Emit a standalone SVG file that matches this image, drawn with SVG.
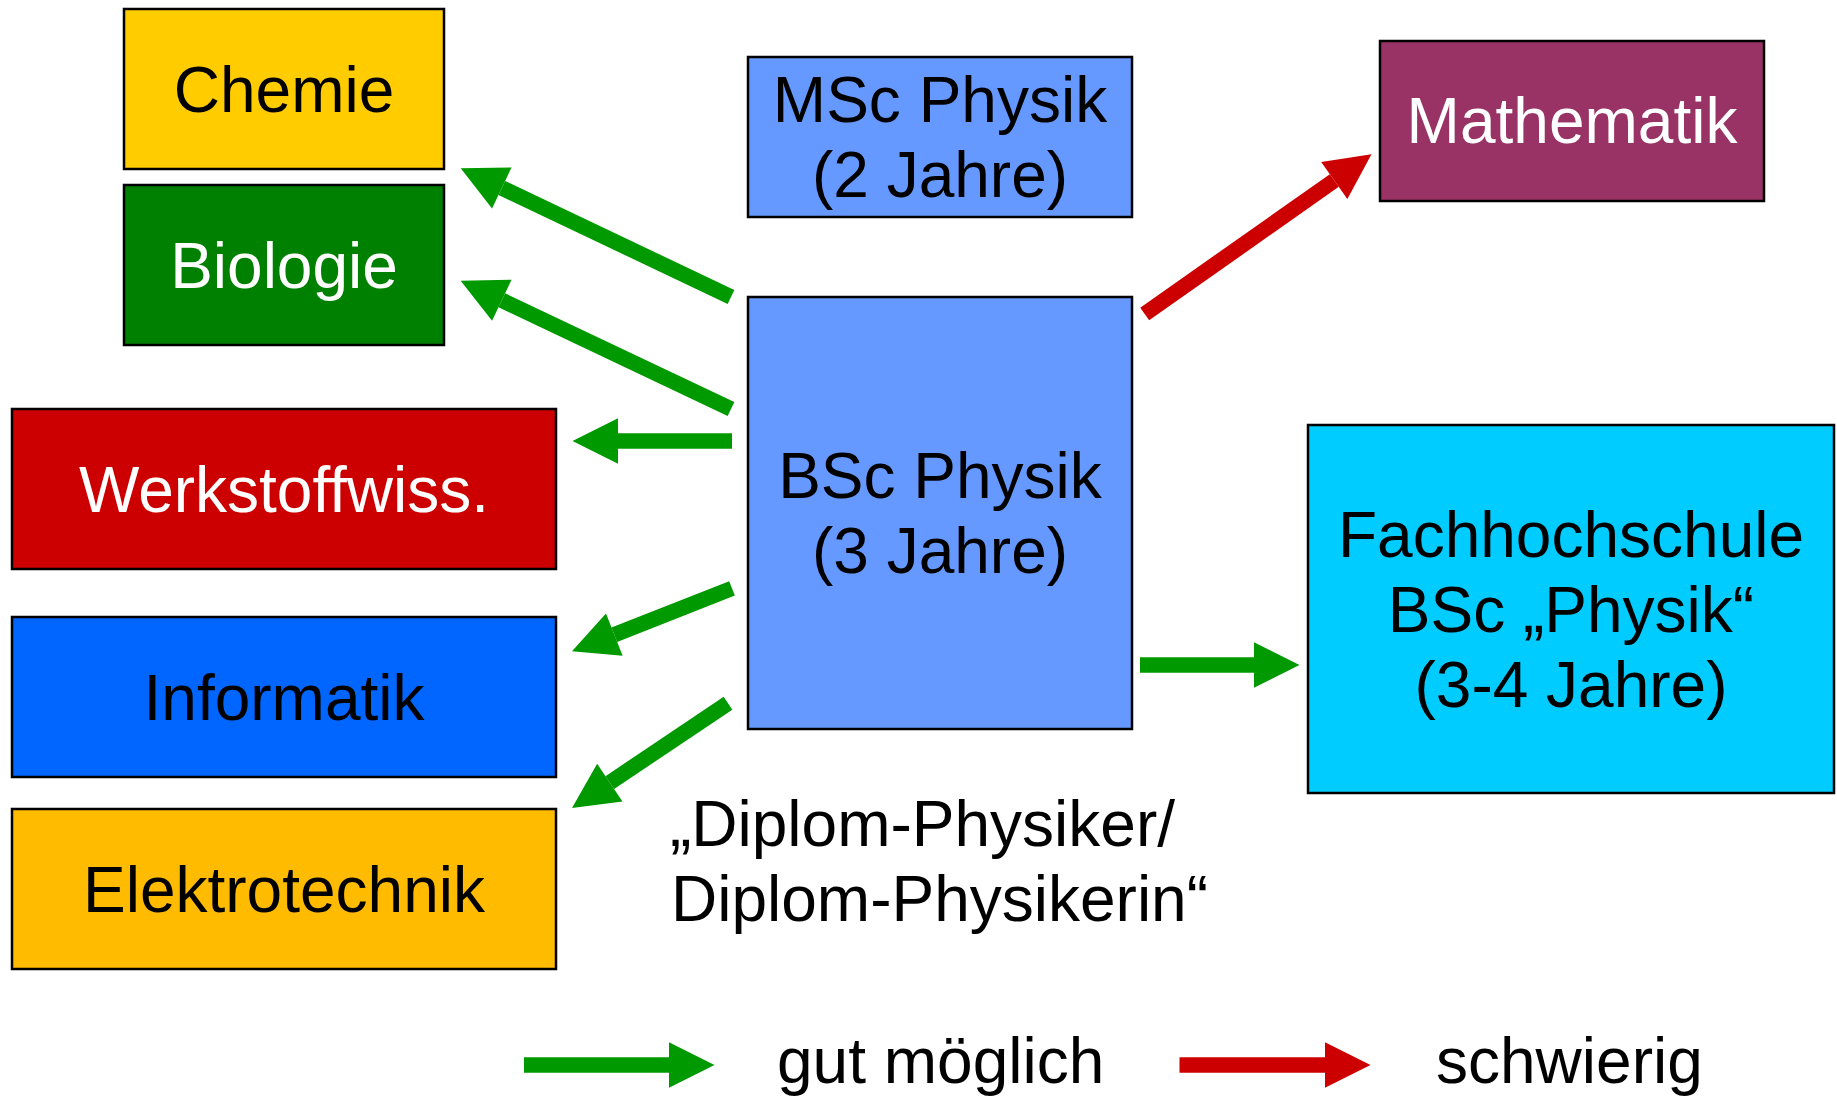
<svg xmlns="http://www.w3.org/2000/svg" width="1837" height="1096" viewBox="0 0 1837 1096">
  <style>
    .box { stroke: #000; stroke-width: 2.5; }
    .t { font-family: "Liberation Sans", Arial, sans-serif; font-size: 64px; text-anchor: middle; fill: #000; }
    .w { fill: #fff; }
    .lbl { font-family: "Liberation Sans", Arial, sans-serif; font-size: 64px; fill: #000; }
    .g { stroke: #009900; stroke-width: 15.5; fill: none; marker-end: url(#hg); }
    .r { stroke: #CC0000; stroke-width: 15.5; fill: none; marker-end: url(#hr); }
  </style>
  <defs>
    <marker id="hg" markerUnits="userSpaceOnUse" markerWidth="46" markerHeight="46" refX="0" refY="22.7" orient="auto" overflow="visible">
      <path d="M0,0 L45.5,22.7 L0,45.4 Z" fill="#009900"/>
    </marker>
    <marker id="hr" markerUnits="userSpaceOnUse" markerWidth="46" markerHeight="46" refX="0" refY="22.7" orient="auto" overflow="visible">
      <path d="M0,0 L45.5,22.7 L0,45.4 Z" fill="#CC0000"/>
    </marker>
  </defs>
  <rect width="1837" height="1096" fill="#fff"/>

  <g id="chemie">
    <rect class="box" x="124" y="9" width="320" height="160" fill="#FFCC00"/>
    <text class="t" x="284" y="112">Chemie</text>
  </g>
  <g id="biologie">
    <rect class="box" x="124" y="185" width="320" height="160" fill="#008000"/>
    <text class="t w" x="284" y="288">Biologie</text>
  </g>
  <g id="werkstoffwiss">
    <rect class="box" x="12" y="409" width="544" height="160" fill="#CC0000"/>
    <text class="t w" x="284" y="512">Werkstoffwiss.</text>
  </g>
  <g id="informatik">
    <rect class="box" x="12" y="617" width="544" height="160" fill="#0066FF"/>
    <text class="t" x="284" y="720">Informatik</text>
  </g>
  <g id="elektrotechnik">
    <rect class="box" x="12" y="809" width="544" height="160" fill="#FFBB00"/>
    <text class="t" x="284" y="912">Elektrotechnik</text>
  </g>
  <g id="msc">
    <rect class="box" x="748" y="57" width="384" height="160" fill="#6699FF"/>
    <text class="t" x="940" y="122">MSc Physik</text>
    <text class="t" x="940" y="197">(2 Jahre)</text>
  </g>
  <g id="bsc">
    <rect class="box" x="748" y="297" width="384" height="432" fill="#6699FF"/>
    <text class="t" x="940" y="498">BSc Physik</text>
    <text class="t" x="940" y="573">(3 Jahre)</text>
  </g>
  <g id="mathematik">
    <rect class="box" x="1380" y="41" width="384" height="160" fill="#993366"/>
    <text class="t w" x="1572" y="143">Mathematik</text>
  </g>
  <g id="fachhochschule">
    <rect class="box" x="1308" y="425" width="526" height="368" fill="#00CCFF"/>
    <text class="t" x="1571" y="557">Fachhochschule</text>
    <text class="t" x="1571" y="632">BSc „Physik“</text>
    <text class="t" x="1571" y="707">(3-4 Jahre)</text>
  </g>
  <g id="diplom">
    <text class="lbl" x="670" y="846">„Diplom-Physiker/</text>
    <text class="lbl" x="671" y="921">Diplom-Physikerin“</text>
  </g>

  <g id="connectors">
    <line class="g" x1="731" y1="297" x2="501.8" y2="187.9"/>
    <line class="g" x1="731" y1="409" x2="501.8" y2="300.3"/>
    <line class="g" x1="732" y1="441" x2="618" y2="441"/>
    <line class="g" x1="732" y1="588.4" x2="614.3" y2="634.7"/>
    <line class="g" x1="728" y1="703.2" x2="609.8" y2="782.6"/>
    <line class="r" x1="1144.7" y1="314" x2="1334.3" y2="180.5"/>
    <line class="g" x1="1140" y1="665" x2="1254" y2="665"/>
  </g>

  <g id="legend">
    <line class="g" x1="524" y1="1065" x2="669" y2="1065"/>
    <text class="lbl" x="777" y="1083">gut möglich</text>
    <line class="r" x1="1179.5" y1="1065" x2="1325" y2="1065"/>
    <text class="lbl" x="1436" y="1083">schwierig</text>
  </g>
</svg>
